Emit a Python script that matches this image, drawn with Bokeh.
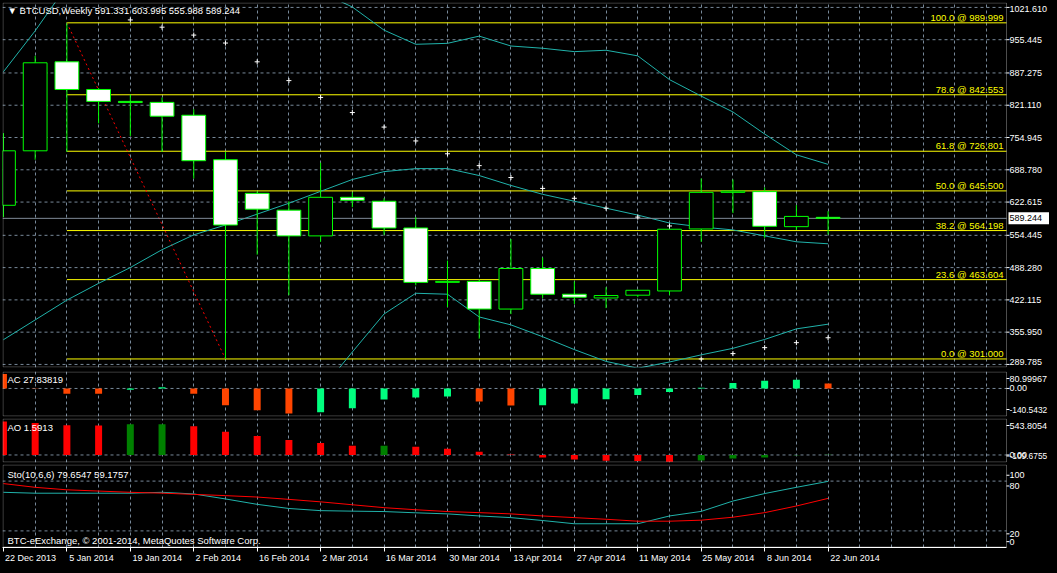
import numpy as np
from bokeh.plotting import figure
from bokeh.layouts import column
from bokeh.models import (Range1d, FixedTicker, Grid, Label, Span, BoxAnnotation,
                          GlobalInlineStyleSheet)
from bokeh.embed import file_html
from bokeh.resources import INLINE

# ---------------- data ----------------
symbol = "BTCUSD"
timeframe = "Weekly"
weeks = ["22 Dec 2013", "29 Dec 2013", "5 Jan 2014", "12 Jan 2014", "19 Jan 2014", "26 Jan 2014",
         "2 Feb 2014", "9 Feb 2014", "16 Feb 2014", "23 Feb 2014", "2 Mar 2014", "9 Mar 2014",
         "16 Mar 2014", "23 Mar 2014", "30 Mar 2014", "6 Apr 2014", "13 Apr 2014", "20 Apr 2014",
         "27 Apr 2014", "4 May 2014", "11 May 2014", "18 May 2014", "25 May 2014", "1 Jun 2014",
         "8 Jun 2014", "15 Jun 2014", "22 Jun 2014"]

open_ = [616.0, 727.7, 910.1, 853.4, 829.0, 827.0, 800.6, 709.4, 640.5, 606.0, 553.3, 632.4, 624.3, 569.5,
         458.0, 460.0, 403.3, 486.4, 433.7, 426.0, 431.7, 440.4, 567.5, 642.5, 644.0, 572.2, 591.331]
high = [764.0, 922.3, 989.999, 856.0, 843.0, 837.0, 812.8, 725.6, 644.6, 624.3, 703.3, 642.5, 630.4, 591.8,
        502.6, 464.0, 547.0, 508.7, 460.0, 448.0, 443.0, 567.5, 670.9, 668.9, 652.6, 616.2, 603.995]
low = [591.8, 709.4, 725.6, 784.0, 758.0, 725.6, 670.9, 301.0, 514.8, 431.7, 541.2, 612.1, 555.3, 452.0,
       407.4, 342.5, 393.0, 425.6, 413.5, 405.3, 427.6, 432.4, 541.2, 600.0, 549.3, 565.5, 555.988]
close = [727.7, 908.1, 853.4, 829.0, 826.6, 798.6, 707.4, 575.6, 608.0, 553.3, 632.4, 626.3, 569.5, 458.0,
         460.0, 403.3, 486.4, 433.7, 427.6, 431.0, 441.8, 566.9, 642.5, 645.0, 573.0, 593.2, 589.244]

bb_upper = [889.8, 973.6, 1066.0, 1090.0, 1100.0, 1105.0, 1100.0, 1095.0, 1085.0, 1070.0, 1053.0, 1022.5,
            975.0, 946.0, 948.0, 962.8, 942.5, 937.9, 931.0, 933.8, 922.3, 873.6, 839.8, 807.3, 762.1,
            719.5, 699.9]
bb_middle = [340.5, 381.0, 421.6, 456.0, 488.4, 525.0, 555.4, 575.6, 597.9, 620.2, 644.6, 668.9, 685.0,
             691.2, 691.2, 677.0, 656.7, 638.5, 624.3, 610.1, 595.9, 579.7, 571.6, 565.5, 553.3, 541.2, 537.1]
bb_lower = [-209.0, -212.0, -223.0, -178.0, -123.0, -55.0, 11.0, 56.0, 111.0, 170.0, 236.0, 315.3, 393.2,
            435.7, 433.7, 387.1, 370.9, 346.6, 320.2, 296.0, 282.0, 294.8, 309.4, 322.8, 341.0, 362.7, 372.3]

sar = [np.nan, np.nan, np.nan, np.nan, 996.0, 981.1, 964.9, 948.6, 910.1, 871.6, 837.1, 806.1, 776.3,
       747.9, 721.6, 697.3, 672.9, 650.6, 630.4, 610.1, 591.8, 573.6, 301.0, 312.0, 324.2, 334.4, 344.5]

fib_levels = [100.0, 78.6, 61.8, 50.0, 38.2, 23.6, 0.0]
fib_prices = [989.999, 842.553, 726.801, 645.500, 564.198, 463.604, 301.000]

price_ticks = [1021.610, 955.445, 887.275, 821.110, 754.945, 688.780, 622.615, 554.445, 488.280,
               422.115, 355.950, 289.785]

ac = [80.99967, -2.0, -29.0, -29.5, -7.0, 7.0, -29.0, -94.6, -122.0, -140.5432, -132.9, -111.0, -61.9,
      -51.0, -45.5, -72.8, -95.2, -93.5, -83.5, -60.2, -36.9, -19.4, 4.0, 31.0, 42.7, 48.6, 27.83819]
ao = [543.8054, 518.0, 481.0, 479.0, 497.0, 498.0, 465.0, 375.0, 306.0, 243.0, 195.5, 148.0, 150.0,
      132.0, 100.0, 53.0, 6.0, -39.0, -73.0, -93.0, -99.0, -109.6755, -90.0, -56.0, -39.0, -6.0, 1.5913]

sto_main = [66.5, 65.4, 65.4, 65.4, 65.4, 66.5, 64.5, 58.5, 52.0, 47.0, 44.4, 43.8, 43.3, 41.8, 40.5,
            38.0, 36.0, 32.5, 28.6, 28.6, 28.6, 38.0, 43.5, 56.0, 65.0, 72.5, 79.6547]
sto_signal = [77.0, 72.5, 69.5, 68.0, 66.5, 65.5, 64.0, 62.5, 60.8, 58.0, 55.0, 51.5, 48.0, 45.5, 43.3,
              42.0, 40.5, 38.0, 36.0, 34.0, 31.7, 31.7, 32.9, 36.5, 42.0, 50.0, 59.1757]
sto_levels = [80, 20]
copyright_text = "BTC-eExchange, \u00a9 2001-2014, MetaQuotes Software Corp."

# ---------------- style / layout ----------------
FONT = "Liberation Sans"
FS = "9.5px"
FSA = "9px"
FSN = "8.4px"
GRID = "#778899"
W = 1049
LB = 2
AXIS_PX = 1006
n = len(close)
idx = np.arange(n)
X0, X1 = -0.03, 31.625
ppi = (AXIS_PX - LB) / (X1 - X0)
XR = X0 + (W - LB) / ppi
xr = Range1d(X0, XR)
grid_idx = list(range(1, int(X1) + 1))


def make_fig(frame_h, yr, top, bottom, xaxis=False):
    p = figure(width=W, height=frame_h + top + bottom, x_range=xr, y_range=yr, output_backend="svg",
               toolbar_location=None, x_axis_location="below" if xaxis else None, y_axis_location=None,
               min_border_left=LB, min_border_right=0, min_border_top=top, min_border_bottom=bottom,
               background_fill_color="black", border_fill_color="black", outline_line_color=None)
    # drop the default grids, draw our own
    p.center = [r for r in p.center if not isinstance(r, Grid)]
    p.add_layout(Grid(dimension=0, ticker=FixedTicker(ticks=grid_idx),
                      grid_line_color=GRID, grid_line_dash="3 3"))
    u = (yr.end - yr.start) / frame_h
    p.add_layout(BoxAnnotation(left=X0 + 0.5 / ppi, right=X1, bottom=yr.start + 0.5 * u,
                               top=yr.end - 0.5 * u, fill_color=None, fill_alpha=0,
                               line_color="white", line_width=1, level="overlay"))
    return p, u


def hgrid(p, ys):
    p.segment(x0=[X0] * len(ys), y0=ys, x1=[X1] * len(ys), y1=ys,
              line_color=GRID, line_width=1, line_dash="3 3")


def right_axis(p, yr, u, ticks, labels, sizes=None):
    p.segment(x0=[X1] * len(ticks), y0=ticks, x1=[X1 + 3 / ppi] * len(ticks), y1=ticks,
              line_color="white", line_width=1)
    for k, (t, lab) in enumerate(zip(ticks, labels)):
        ly = min(max(t, yr.start + 6 * u), yr.end - 6 * u)
        fs = sizes[k] if sizes else FSA
        p.add_layout(Label(x=X1, y=ly, x_offset=3, text=lab, text_color="white", text_font=FONT,
                           text_font_size=fs, text_baseline="middle", text_align="left"))


def corner_label(p, text, y):
    p.add_layout(Label(x=X0, y=y, x_offset=5, text=text, text_color="white",
                       text_font=FONT, text_font_size=FS, text_baseline="middle"))


# ---------------- main price panel ----------------
MAIN_H = 365
main_rng = Range1d(283.5, 1031.7)
p, um = make_fig(MAIN_H, main_rng, 2, 2)
hgrid(p, price_ticks)

# Fibonacci retracement
hi_i = int(np.argmax(high))
lo_i = int(np.argmin(low))
p.segment(x0=[hi_i] * len(fib_prices), y0=fib_prices, x1=[X1] * len(fib_prices), y1=fib_prices,
          line_color="#ffff00", line_width=1)
for lvl, pr in zip(fib_levels, fib_prices):
    p.add_layout(Label(x=X1, y=pr, x_offset=-3, text=f"{lvl:.1f} @ {pr:.3f}", text_color="#ffff00",
                       text_font=FONT, text_font_size=FS, text_align="right", text_baseline="bottom"))
p.line([hi_i, lo_i], [high[hi_i], low[lo_i]], line_color="#ff0000", line_dash="2 3", line_width=1)

# Bollinger bands
for band in (bb_upper, bb_middle, bb_lower):
    p.line(idx, band, line_color="#20b2aa", line_width=1)

# bid line (stops at the price scale)
p.segment(x0=[X0], y0=[close[-1]], x1=[X1], y1=[close[-1]], line_color="#7f8a96", line_width=1)

# candles
o = np.array(open_)
c = np.array(close)
p.segment(x0=idx, y0=high, x1=idx, y1=low, line_color="#00ff00", line_width=1)
fills = ["black" if cc > oo else "white" for oo, cc in zip(o, c)]
p.vbar(x=idx, width=0.75, top=np.maximum(o, c), bottom=np.minimum(o, c),
       fill_color=fills, line_color="#00ff00", line_width=1)

# parabolic SAR
p.scatter(idx, sar, marker="cross", size=5, line_color="white", line_width=1)

right_axis(p, main_rng, um, price_ticks, [f"{t:.3f}" for t in price_ticks])
title = f"\u25bc {symbol},{timeframe}  {open_[-1]:.3f} {high[-1]:.3f} {low[-1]:.3f} {close[-1]:.3f}"
corner_label(p, title, main_rng.end - 8 * um)

# current price tag on the price scale
p.rect(x=[X1 + 23 / ppi], y=[close[-1]], width=42, height=12, width_units="screen",
       height_units="screen", fill_color="white", line_color=None)
p.add_layout(Label(x=X1, y=close[-1], x_offset=3, text=f"{close[-1]:.3f}", text_color="black",
                   text_font=FONT, text_font_size=FSA, text_baseline="middle", text_align="left"))

# ---------------- AC panel ----------------
AC_H = 45
ac_rng = Range1d(-157.0, 95.0)
pac, ua = make_fig(AC_H, ac_rng, 2, 1)
hgrid(pac, [0.0])
ac_cols = ["#00ff7f" if i > 0 and ac[i] > ac[i - 1] else "#ff4500" for i in range(n)]
pac.vbar(x=idx, width=0.22, top=ac, bottom=0, fill_color=ac_cols, line_color=None)
right_axis(pac, ac_rng, ua, [ac_rng.end - 7 * ua, 0.0, ac_rng.start + 7 * ua],
           [f"{max(ac):.5f}", "0.00", f"{min(ac):.4f}"], [FSA, FSA, FSN])
corner_label(pac, f"AC {ac[-1]:.5f}", ac_rng.end - 7.5 * ua)

# ---------------- AO panel ----------------
AO_H = 44
ao_rng = Range1d(-122.0, 591.0)
pao, uo = make_fig(AO_H, ao_rng, 1, 1)
hgrid(pao, [0.0])
ao_cols = ["#008000" if i > 0 and ao[i] > ao[i - 1] else "#ff0000" for i in range(n)]
pao.vbar(x=idx, width=0.22, top=ao, bottom=0, fill_color=ao_cols, line_color=None)
right_axis(pao, ao_rng, uo, [ao_rng.end - 7 * uo, 0.0, ao_rng.start + 6.5 * uo],
           [f"{max(ao):.4f}", "0.00", f"{min(ao):.4f}"], [FSA, FSA, FSN])
corner_label(pao, f"AO {ao[-1]:.4f}", ao_rng.end - 9 * uo)

# ---------------- Stochastic panel ----------------
STO_H = 85
sto_rng = Range1d(0, 100)
pst, us = make_fig(STO_H, sto_rng, 1, 16, xaxis=True)
hgrid(pst, sto_levels)
pst.line(idx, sto_main, line_color="#20b2aa", line_width=1)
pst.line(idx, sto_signal, line_color="#ff0000", line_width=1)
right_axis(pst, sto_rng, us, [100 - 11 * us, 80 - 5 * us, 20 - 3 * us, 0 + 6 * us],
           ["100", "80", "20", "0"])
corner_label(pst, f"Sto(10,6,6) {sto_main[-1]:.4f} {sto_signal[-1]:.4f}", sto_rng.end - 10 * us)
corner_label(pst, copyright_text, sto_rng.start + 7 * us)


# date axis: labels left-aligned at every second week
def text_w(s, fs=9.0):
    w = 0.0
    for ch in s:
        if ch.isdigit():
            w += 0.556
        elif ch == " ":
            w += 0.278
        elif ch.isupper():
            w += 0.667
        else:
            w += 0.5
    return w * fs


lab_idx = list(range(0, n, 2))
lab_pos = [i + (2 + text_w(weeks[i]) / 2) / ppi for i in lab_idx]
xa = pst.xaxis[0]
xa.ticker = FixedTicker(ticks=lab_pos, minor_ticks=lab_idx)
xa.major_label_overrides = {pos: weeks[i] for pos, i in zip(lab_pos, lab_idx)}
xa.bounds = (X0, X1)
xa.major_tick_line_color = None
xa.major_tick_out = 2
xa.major_tick_in = 0
xa.major_label_standoff = 1
xa.minor_tick_line_color = "white"
xa.minor_tick_out = 4
xa.minor_tick_in = 0
xa.axis_line_color = "white"
xa.major_label_text_color = "white"
xa.major_label_text_font = FONT
xa.major_label_text_font_size = FSA

layout = column(p, pac, pao, pst, spacing=0,
                stylesheets=[GlobalInlineStyleSheet(css="html, body { background-color: #000000; }")])

open("out.html", "w").write(file_html(layout, INLINE))
